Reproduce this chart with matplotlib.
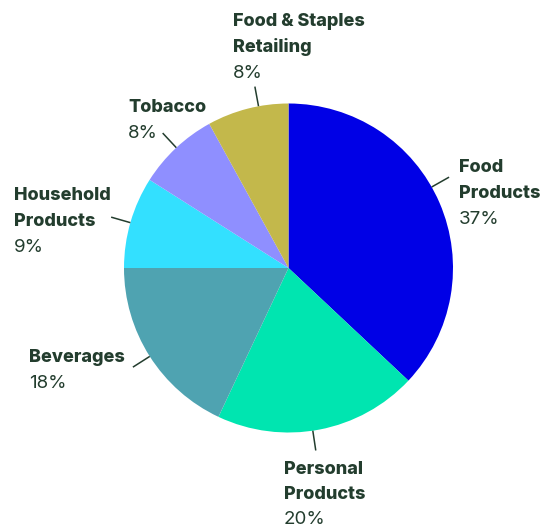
import numpy as np
import matplotlib.pyplot as plt

# sector shares, clockwise from 12 o'clock
sectors = ["Food Products", "Personal Products", "Beverages",
           "Household Products", "Tobacco", "Food & Staples Retailing"]
shares = [37, 20, 18, 9, 8, 8]
colors = ["#0000e6", "#00e5b0", "#4fa3b1", "#33e0ff", "#8f8fff", "#c3b84b"]

# label text split into lines, text anchor (px from top-left), leader angle
label_lines = [["Food", "Products"], ["Personal", "Products"], ["Beverages"],
               ["Household", "Products"], ["Tobacco"], ["Food & Staples", "Retailing"]]
label_pos = [(459, 168), (284, 469), (29, 358), (14, 196), (128, 108), (233, 22)]
leader_deg = [29.5, -81.5, -147.5, 164.0, 133.0, 100.5]

W, H = 540, 526
ink = "#233d2e"

fig = plt.figure(figsize=(W / 100, H / 100), dpi=100)
ax = fig.add_axes([0, 0, 1, 1])

cx, cy, r = 288.5, H - 268, 164.5
ax.pie(shares, colors=colors, startangle=90, counterclock=False,
       center=(cx, cy), radius=r, frame=True,
       wedgeprops=dict(linewidth=0))
ax.set_xlim(0, W)
ax.set_ylim(0, H)
ax.set_aspect("equal")
ax.axis("off")

step = 25.5
for name, val, lines, (tx, ty), ang in zip(sectors, shares, label_lines,
                                          label_pos, leader_deg):
    a = np.radians(ang)
    ax.plot([cx + r * np.cos(a), cx + (r + 20) * np.cos(a)],
            [cy + r * np.sin(a), cy + (r + 20) * np.sin(a)],
            color=ink, lw=1.1, solid_capstyle="butt")
    y = ty
    for ln in lines:
        ax.text(tx, H - y, ln, ha="left", va="center", fontsize=13,
                fontweight="heavy", family="Inter", color=ink)
        y += step
    ax.text(tx, H - y, f"{val}%", ha="left", va="center", fontsize=13.5,
            family="Inter", fontweight="normal", color=ink)

fig.savefig("out.png", dpi=100)
